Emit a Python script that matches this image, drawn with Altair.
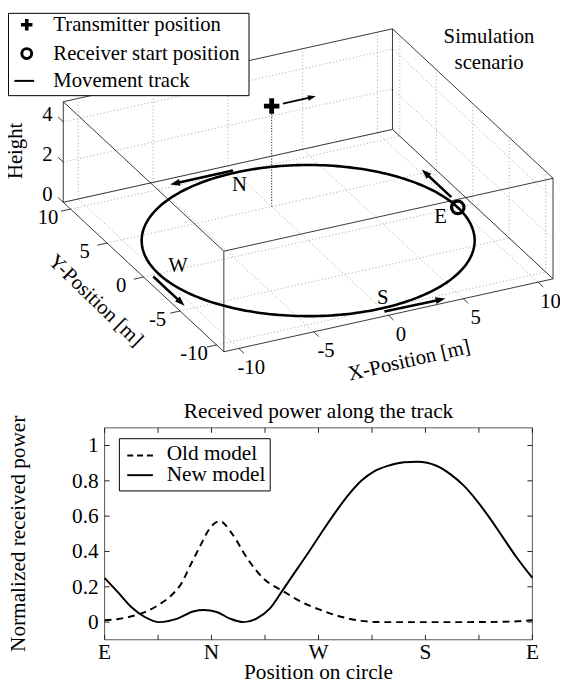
import math
import numpy as np
import pandas as pd
import altair as alt

# ---------------- data: simulation scenario (3-D scene) ----------------
X_LIMITS = [-11, 11]
Y_LIMITS = [-11, 11]
Z_LIMITS = [0, 5]
X_TICKS = [-10, -5, 0, 5, 10]
Y_TICKS = [-10, -5, 0, 5, 10]
Z_TICKS = [0, 2, 4]
TRACK_RADIUS = 10
TRANSMITTER = [0, 5, 5]
TX_ARROW_START = [0.75, 5, 5]
TX_ARROW_END = [2.95, 5, 5]
RECEIVER_START = [10, 0, 0]
CARDINALS = ["N", "E", "W", "S"]
CARDINAL_X = [-0.5, 8.5, -8.5, 0.7]
CARDINAL_Y = [8.4, -0.7, 0.4, -8.8]
ARROW_X0 = [10.25, 0.0, -10.45, 0.0]
ARROW_Y0 = [1.4, 10.3, -0.2, -10.45]
ARROW_X1 = [10.25, -4.2, -10.45, 4.05]
ARROW_Y1 = [5.45, 10.3, -4.5, -10.5]

# ---------------- data: received power along the track ----------------
POS_TICKS = [0, 0.25, 0.5, 0.75, 1.0]
POS_LABELS = ["E", "N", "W", "S", "E"]
POS_MINOR = [0, 0.125, 0.25, 0.375, 0.5, 0.625, 0.75, 0.875, 1.0]
POWER_TICKS = [0, 0.2, 0.4, 0.6, 0.8, 1.0]
POWER_LABELS = ["0", "0.2", "0.4", "0.6", "0.8", "1"]

OLD_POS = [0.0, 0.032, 0.063, 0.094, 0.124, 0.155, 0.178, 0.201, 0.224, 0.247,
           0.270, 0.293, 0.309, 0.324, 0.339, 0.370, 0.416, 0.462, 0.508, 0.555,
           0.600, 0.647, 0.75, 0.85, 0.95, 1.0]
OLD_POWER = [0.011, 0.018, 0.033, 0.057, 0.094, 0.149, 0.213, 0.324, 0.434, 0.535,
             0.572, 0.517, 0.46, 0.397, 0.342, 0.25, 0.177, 0.112, 0.066, 0.029,
             0.007, 0.0, 0.0, 0.0, 0.003, 0.011]

NEW_POS = [0.0, 0.032, 0.063, 0.094, 0.128, 0.170, 0.209, 0.232, 0.262, 0.293,
           0.324, 0.355, 0.386, 0.416, 0.447, 0.478, 0.508, 0.539, 0.570, 0.600,
           0.631, 0.662, 0.700, 0.731, 0.777, 0.808, 0.839, 0.869, 0.900, 0.931,
           0.962, 1.0]
NEW_POWER = [0.25, 0.167, 0.084, 0.029, 0.0, 0.02, 0.062, 0.068, 0.057, 0.02,
             0.0, 0.02, 0.076, 0.18, 0.29, 0.40, 0.51, 0.62, 0.72, 0.80,
             0.855, 0.885, 0.905, 0.908, 0.884, 0.838, 0.774, 0.691, 0.59, 0.48,
             0.37, 0.25]

# ---------------- layout / style ----------------
W, H = 560, 681
FONT = "Liberation Serif"
FS_TOP = 21
FS = 21.6

# orthographic view of the 3-D box
AZ = math.radians(26.0)
EL = math.radians(27.0)
S_XY = 16.89
S_Z = 22.9
ORIGIN = (304.5, 231.0)


def P(x, y, z):
    u = ORIGIN[0] + S_XY * (x * math.cos(AZ) - y * math.sin(AZ))
    v = (ORIGIN[1] - S_XY * math.sin(EL) * (x * math.sin(AZ) + y * math.cos(AZ))
         - S_Z * math.cos(EL) * z)
    return u, v


def seg(a, b):
    u, v = P(*a)
    u2, v2 = P(*b)
    return {"u": u, "v": v, "u2": u2, "v2": v2}


XS = alt.Scale(domain=[0, W], range=[0, W])
YS = alt.Scale(domain=[0, H], range=[0, H])


def rules(rows, **kw):
    return alt.Chart(pd.DataFrame(rows)).mark_rule(**kw).encode(
        x=alt.X("u:Q", scale=XS, axis=None),
        y=alt.Y("v:Q", scale=YS, axis=None),
        x2="u2:Q", y2="v2:Q")


def texts(rows, **kw):
    return alt.Chart(pd.DataFrame(rows)).mark_text(font=FONT, fontSize=FS_TOP, color="black", **kw).encode(
        x=alt.X("u:Q", scale=XS, axis=None),
        y=alt.Y("v:Q", scale=YS, axis=None),
        text="t:N")


def points(rows, **kw):
    return alt.Chart(pd.DataFrame(rows)).mark_point(opacity=1, color="black", **kw).encode(
        x=alt.X("u:Q", scale=XS, axis=None),
        y=alt.Y("v:Q", scale=YS, axis=None))


x0, x1 = X_LIMITS
y0, y1 = Y_LIMITS
z0, z1 = Z_LIMITS

# grid on the back planes
grid = []
for t in X_TICKS:
    grid.append(seg((t, y0, z0), (t, y1, z0)))
    grid.append(seg((t, y1, z0), (t, y1, z1)))
for t in Y_TICKS:
    grid.append(seg((x0, t, z0), (x1, t, z0)))
    grid.append(seg((x1, t, z0), (x1, t, z1)))
for z in Z_TICKS:
    grid.append(seg((x0, y1, z), (x1, y1, z)))
    grid.append(seg((x1, y0, z), (x1, y1, z)))

# box edges
corners = [(a, b, c) for a in X_LIMITS for b in Y_LIMITS for c in Z_LIMITS]
edges = []
for i, a in enumerate(corners):
    for b in corners[i + 1:]:
        if sum(a[k] != b[k] for k in range(3)) == 1:
            edges.append(seg(a, b))

# tick marks
ticks = []
for t in X_TICKS:
    ticks.append(seg((t, y0, z0), (t, y0 - 0.7, z0)))
for t in Y_TICKS:
    ticks.append(seg((x0, t, z0), (x0 - 0.65, t, z0)))
for z in Z_TICKS:
    ticks.append(seg((x0, y1, z), (x0, y1 + 0.7, z)))

# tick labels
tick_labels = []
for t in X_TICKS:
    u, v = P(t, y0 - 1.7, z0 - 0.4)
    tick_labels.append({"u": u, "v": v, "t": str(t)})
for t in Y_TICKS:
    u, v = P(x0 - 1.5, t, z0 - 0.22)
    tick_labels.append({"u": u, "v": v, "t": str(t)})
for z in Z_TICKS:
    u, v = P(x0 - 0.45, y1 + 1.24, z)
    tick_labels.append({"u": u, "v": v, "t": str(z)})

# track circle
track = []
for k, th in enumerate(np.linspace(0, 2 * np.pi, 241)):
    u, v = P(TRACK_RADIUS * math.cos(th), TRACK_RADIUS * math.sin(th), 0)
    track.append({"u": u, "v": v, "i": k})

HEAD = "M0,0 L0.7,2 L-0.7,2 Z"


def arrow(a, b, head_len):
    ua, va = P(*a)
    ub, vb = P(*b)
    dx, dy = ub - ua, vb - va
    n = math.hypot(dx, dy)
    ex, ey = dx / n, dy / n
    line = {"u": ua, "v": va, "u2": ub - ex * head_len * 0.8, "v2": vb - ey * head_len * 0.8}
    ang = math.degrees(math.atan2(dx, -dy)) % 360
    head = {"u": ub, "v": vb, "a": ang}
    return line, head


track_lines, track_heads = [], []
for xa, ya, xb, yb in zip(ARROW_X0, ARROW_Y0, ARROW_X1, ARROW_Y1):
    l, h = arrow((xa, ya, 0), (xb, yb, 0), 10)
    track_lines.append(l)
    track_heads.append(h)
tx_line, tx_head = arrow(TX_ARROW_START, TX_ARROW_END, 8)

card = []
for name, cx, cy in zip(CARDINALS, CARDINAL_X, CARDINAL_Y):
    u, v = P(cx, cy, 0)
    card.append({"u": u, "v": v, "t": name})

tu, tv = P(*TRANSMITTER)
ru, rv = P(*RECEIVER_START)

PLUS = ("M-1,-0.31 L-0.31,-0.31 L-0.31,-1 L0.31,-1 L0.31,-0.31 L1,-0.31 L1,0.31 "
        "L0.31,0.31 L0.31,1 L-0.31,1 L-0.31,0.31 L-1,0.31 Z")

one = pd.DataFrame({"d": [0]})


def vtext(txt, x, y, fs=FS_TOP, **kw):
    return alt.Chart(one).mark_text(text=txt, font=FONT, fontSize=fs, color="black", **kw).encode(
        x=alt.value(x), y=alt.value(y))


top_layers = [
    rules(grid, color="#9a9a9a", strokeWidth=0.9, strokeDash=[1, 2.5]),
    rules(edges, color="#222", strokeWidth=0.9),
    rules(ticks, color="#222", strokeWidth=0.9),
    texts(tick_labels, align="center", baseline="middle"),
    rules([seg(TRANSMITTER, (TRANSMITTER[0], TRANSMITTER[1], 0))], color="#333",
          strokeWidth=1.1, strokeDash=[1.2, 1.6]),
    alt.Chart(pd.DataFrame(track)).mark_line(color="black", strokeWidth=2.6, strokeJoin="round").encode(
        x=alt.X("u:Q", scale=XS, axis=None), y=alt.Y("v:Q", scale=YS, axis=None), order="i:Q"),
    rules(track_lines, color="black", strokeWidth=2.6),
    alt.Chart(pd.DataFrame(track_heads)).mark_point(shape=HEAD, filled=True, size=100, opacity=1,
                                                     color="black").encode(
        x=alt.X("u:Q", scale=XS, axis=None), y=alt.Y("v:Q", scale=YS, axis=None),
        angle=alt.Angle("a:Q", scale=None)),
    rules([tx_line], color="black", strokeWidth=1.8),
    alt.Chart(pd.DataFrame([tx_head])).mark_point(shape=HEAD, filled=True, size=64, opacity=1,
                                                   color="black").encode(
        x=alt.X("u:Q", scale=XS, axis=None), y=alt.Y("v:Q", scale=YS, axis=None),
        angle=alt.Angle("a:Q", scale=None)),
    points([{"u": tu, "v": tv}], shape=PLUS, filled=True, size=246),
    points([{"u": ru, "v": rv}], shape="circle", filled=False, size=160, strokeWidth=3.2),
    texts(card, align="center", baseline="middle"),
    # axis titles and caption
    vtext("Height", 14.5, 140, angle=270, align="center", baseline="alphabetic"),
    vtext("Y-Position [m]", 88.7, 292, angle=44, align="center", baseline="middle"),
    vtext("X-Position [m]", 407, 353, angle=347, align="center", baseline="middle"),
    vtext("Simulation", 488, 30.3, align="center", baseline="alphabetic"),
    vtext("scenario", 488, 57, align="center", baseline="alphabetic"),
    # legend
    alt.Chart(one).mark_rect(fill="white", stroke="black", strokeWidth=1).encode(
        x=alt.value(0.5), x2=alt.value(244.5), y=alt.value(0.5), y2=alt.value(84)),
    alt.Chart(one).mark_point(shape=PLUS, filled=True, size=135, opacity=1, color="black").encode(
        x=alt.value(19), y=alt.value(12)),
    alt.Chart(one).mark_point(shape="circle", filled=False, size=100, strokeWidth=3, opacity=1,
                              color="black").encode(x=alt.value(19), y=alt.value(41.3)),
    alt.Chart(one).mark_rule(color="black", strokeWidth=2).encode(
        x=alt.value(6.5), x2=alt.value(26.5), y=alt.value(69)),
    vtext("Transmitter position", 46, 18.7, align="left", baseline="alphabetic"),
    vtext("Receiver start position", 46, 48, align="left", baseline="alphabetic"),
    vtext("Movement track", 46, 75, align="left", baseline="alphabetic"),
]
top = alt.layer(*top_layers)

# ---------------- lower chart ----------------
PX_RANGE = [98, 532]
PY_RANGE = [636, 421]
PX = alt.Scale(domain=[0, 1], range=PX_RANGE)
PY = alt.Scale(domain=[-0.1, 1.1], range=PY_RANGE)
TLX = 5 * 1.0 / (PX_RANGE[1] - PX_RANGE[0])
TLY = 5 * 1.2 / (PY_RANGE[0] - PY_RANGE[1])


def prules(rows, **kw):
    return alt.Chart(pd.DataFrame(rows)).mark_rule(**kw).encode(
        x=alt.X("pa:Q", scale=PX, axis=None), y=alt.Y("qa:Q", scale=PY, axis=None),
        x2="pb:Q", y2="qb:Q")


ptick_rows = []
for p in POS_MINOR:
    ptick_rows.append({"pa": p, "pb": p, "qa": -0.1, "qb": -0.1 + TLY})
    ptick_rows.append({"pa": p, "pb": p, "qa": 1.1, "qb": 1.1 - TLY})
for w in POWER_TICKS:
    ptick_rows.append({"pa": 0, "pb": TLX, "qa": w, "qb": w})
    ptick_rows.append({"pa": 1, "pb": 1 - TLX, "qa": w, "qb": w})

frame_rows = [
    {"pa": 0, "pb": 1, "qa": -0.1, "qb": -0.1},
    {"pa": 0, "pb": 1, "qa": 1.1, "qb": 1.1},
    {"pa": 0, "pb": 0, "qa": -0.1, "qb": 1.1},
    {"pa": 1, "pb": 1, "qa": -0.1, "qb": 1.1},
]

xlab = alt.Chart(pd.DataFrame({"pa": POS_TICKS, "t": POS_LABELS, "qa": [-0.1] * len(POS_TICKS)})).mark_text(
    font=FONT, fontSize=FS, color="black", dy=20, baseline="alphabetic", align="center").encode(
    x=alt.X("pa:Q", scale=PX, axis=None), y=alt.Y("qa:Q", scale=PY, axis=None), text="t:N")

ylab = alt.Chart(pd.DataFrame({"qa": POWER_TICKS, "t": POWER_LABELS, "pa": [0] * len(POWER_TICKS)})).mark_text(
    font=FONT, fontSize=FS, color="black", dx=-6, dy=7, baseline="alphabetic", align="right").encode(
    x=alt.X("pa:Q", scale=PX, axis=None), y=alt.Y("qa:Q", scale=PY, axis=None), text="t:N")


def ptext(txt, x, y, **kw):
    return alt.Chart(pd.DataFrame({"pa": [x], "qa": [y]})).mark_text(
        text=txt, font=FONT, fontSize=FS, color="black", **kw).encode(
        x=alt.X("pa:Q", scale=PX, axis=None), y=alt.Y("qa:Q", scale=PY, axis=None))


old_line = alt.Chart(pd.DataFrame({"pos": OLD_POS, "power": OLD_POWER})).mark_line(
    color="black", strokeWidth=2, strokeDash=[7, 5], interpolate="monotone").encode(
    x=alt.X("pos:Q", scale=PX, axis=None), y=alt.Y("power:Q", scale=PY, axis=None))
new_line = alt.Chart(pd.DataFrame({"pos": NEW_POS, "power": NEW_POWER})).mark_line(
    color="black", strokeWidth=2, interpolate="monotone").encode(
    x=alt.X("pos:Q", scale=PX, axis=None), y=alt.Y("power:Q", scale=PY, axis=None))

bottom = alt.layer(
    prules(frame_rows, color="#555", strokeWidth=1),
    prules(ptick_rows, color="#222", strokeWidth=1),
    xlab, ylab,
    ptext("Received power along the track", 0.5, 1.1, dy=-10, align="center", baseline="alphabetic"),
    ptext("Position on circle", 0.5, -0.1, dy=40, align="center", baseline="alphabetic"),
    ptext("Normalized received power", 0, 0.5, dy=-81, angle=270, align="center", baseline="alphabetic"),
    old_line, new_line,
    alt.Chart(one).mark_rect(fill="white", stroke="black", strokeWidth=1).encode(
        x=alt.value(113), x2=alt.value(266), y=alt.value(432), y2=alt.value(485)),
    alt.Chart(one).mark_rule(color="black", strokeWidth=2, strokeDash=[6, 4]).encode(
        x=alt.value(121), x2=alt.value(147), y=alt.value(449)),
    alt.Chart(one).mark_rule(color="black", strokeWidth=2).encode(
        x=alt.value(121), x2=alt.value(147), y=alt.value(469)),
    vtext("Old model", 161, 453.7, fs=FS, align="left", baseline="alphabetic"),
    vtext("New model", 161, 475.3, fs=FS, align="left", baseline="alphabetic"),
)

chart = alt.layer(top, bottom).resolve_scale(x="independent", y="independent").properties(
    width=W, height=H, padding=0, autosize=alt.AutoSizeParams(type="none")
).configure_view(stroke=None)

chart.save("out.html", embed_options={"renderer": "svg", "actions": False})
